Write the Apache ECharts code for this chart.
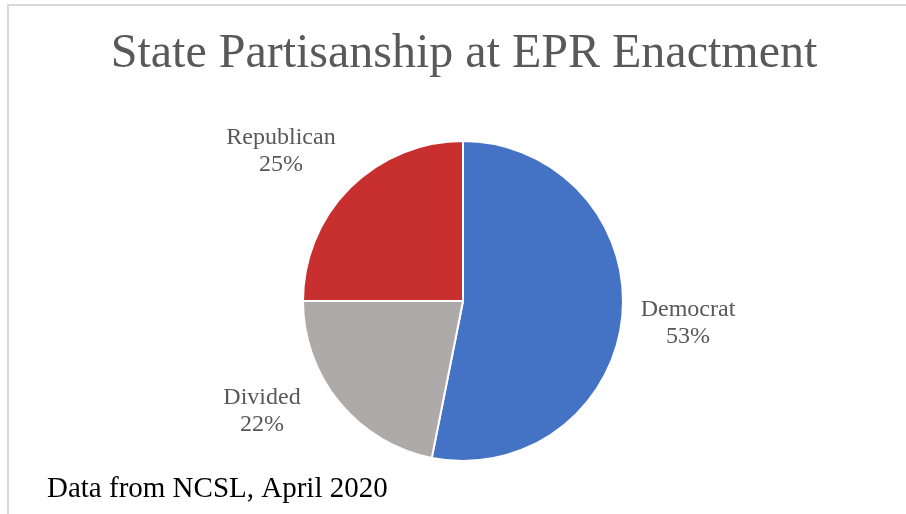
<!DOCTYPE html>
<html>
<head>
<meta charset="utf-8">
<script src="https://cdn.jsdelivr.net/npm/echarts@6/dist/echarts.min.js"></script>
<style>
html,body{margin:0;padding:0;background:#fff;}
#chart{width:906px;height:514px;}
</style>
</head>
<body>
<div id="chart"></div>
<script>
// Data (counts of states; shown as percentages)
const categories = ['Democrat', 'Divided', 'Republican'];
const values = [17, 7, 8];
const colors = ['#4472C4', '#AEAAAA', '#C82F2F'];
const titleText = 'State Partisanship at EPR Enactment';
const footnote = 'Data from NCSL, April 2020';

// label centre positions (layout)
const labelPos = [[688, 323], [262, 411], [281, 151]];

const chart = echarts.init(document.getElementById('chart'), null, {renderer: 'canvas'});
const serif = '"Liberation Serif", "Times New Roman", serif';

chart.setOption({
  backgroundColor: '#ffffff',
  animation: false,
  graphic: [
    {type: 'rect', shape: {x: 8, y: 5, width: 920, height: 540},
     style: {fill: 'none', stroke: '#d9d9d9', lineWidth: 2}, silent: true},
    {type: 'text', x: 464, y: 30,
     style: {text: titleText, font: '48px ' + serif, fill: '#595959', textAlign: 'center', textVerticalAlign: 'top'}},
    {type: 'text', x: 47, y: 475,
     style: {text: footnote, font: '29px ' + serif, fill: '#000000', textAlign: 'left', textVerticalAlign: 'top'}}
  ],
  series: [{
    type: 'pie',
    center: [463, 301],
    radius: 160,
    startAngle: 90,
    clockwise: true,
    percentPrecision: 0,
    itemStyle: {borderColor: '#ffffff', borderWidth: 2},
    label: {
      show: true,
      position: 'outside',
      formatter: '{b}\n{d}%',
      fontFamily: serif,
      fontSize: 24,
      lineHeight: 27,
      color: '#595959',
      align: 'center'
    },
    labelLine: {show: false},
    labelLayout: function (p) {
      const pos = labelPos[p.dataIndex];
      return {x: pos[0], y: pos[1], align: 'center', verticalAlign: 'middle', hideOverlap: false};
    },
    data: categories.map((c, i) => ({name: c, value: values[i], itemStyle: {color: colors[i]}}))
  }]
});
</script>
</body>
</html>
